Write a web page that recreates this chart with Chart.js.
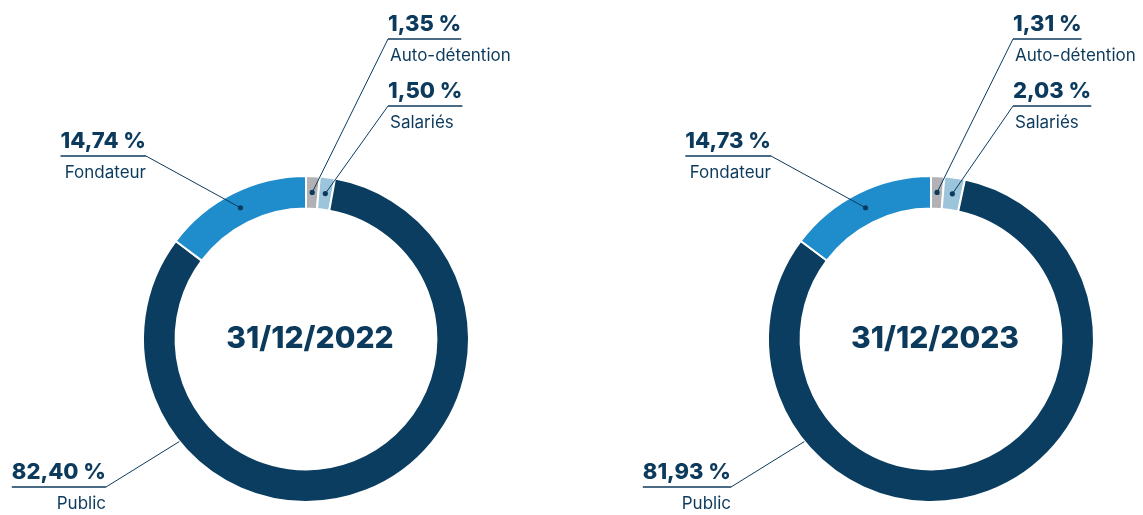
<!DOCTYPE html>
<html>
<head>
<meta charset="utf-8">
<script src="https://cdn.jsdelivr.net/npm/chart.js@4.4.1/dist/chart.umd.min.js"></script>
<style>
  html, body { margin: 0; padding: 0; background: #fff; }
  body { width: 1143px; height: 515px; position: relative; overflow: hidden; }
  .box { position: absolute; top: 0; width: 572px; height: 515px; }
  #boxA { left: 0; }
  #boxB { left: 571px; }
</style>
</head>
<body>
<div class="box" id="boxA"><canvas id="chart2022"></canvas></div>
<div class="box" id="boxB"><canvas id="chart2023"></canvas></div>
<script>
// ---------- data ----------
const categories = ['Auto-détention', 'Salariés', 'Public', 'Fondateur'];
const values2022 = [1.35, 1.50, 82.40, 14.74];
const values2023 = [1.31, 2.03, 81.93, 14.73];
const dateLabels = ['31/12/2022', '31/12/2023'];

// ---------- styles ----------
const sliceColors = ['#b1b1b6', '#9cc4da', '#0b3d60', '#1f8ccb'];
const navy = '#0c3a5c';
const FONT = 'Inter, "Noto Sans", sans-serif';

// callout layout, relative to the doughnut centre
const callouts = [
  { side: 'right', dx: 82, uy: -300, dot: true },
  { side: 'right', dx: 82, uy: -233, dot: true },
  { side: 'left', dx: -200, uy: 148, dot: false, edgeAngle: 141 },
  { side: 'left', dx: -160, uy: -183, dot: true }
];

const fmt = v => v.toFixed(2).replace('.', ',') + ' %';

const calloutPlugin = {
  id: 'callouts',
  afterDraw(chart, args, opts) {
    const ctx = chart.ctx;
    const arcs = chart.getDatasetMeta(0).data;
    const values = chart.data.datasets[0].data;
    if (!arcs.length) return;
    const c = arcs[0].getProps(['x', 'y'], true);
    const cx = c.x, cy = c.y;
    ctx.save();

    // centre date
    ctx.fillStyle = navy;
    ctx.font = '800 30px ' + FONT;
    ctx.textAlign = 'center';
    ctx.textBaseline = 'middle';
    ctx.fillText(opts.date, cx + 4, cy);

    arcs.forEach((arc, i) => {
      const p = arc.getProps(['startAngle', 'endAngle', 'innerRadius', 'outerRadius'], true);
      const cfg = callouts[i];
      let ax, ay;
      if (cfg.dot) {
        const mid = (p.startAngle + p.endAngle) / 2;
        const r = (p.innerRadius + p.outerRadius) / 2;
        ax = cx + Math.cos(mid) * r;
        ay = cy + Math.sin(mid) * r;
      } else {
        const a = cfg.edgeAngle * Math.PI / 180;
        ax = cx + Math.cos(a) * p.outerRadius;
        ay = cy + Math.sin(a) * p.outerRadius;
      }
      const x = cx + cfg.dx;
      const uy = cy + cfg.uy;
      const valTxt = fmt(values[i]);

      ctx.font = '800 22px ' + FONT;
      const w = ctx.measureText(valTxt).width;
      ctx.textBaseline = 'alphabetic';
      ctx.fillStyle = navy;
      ctx.textAlign = cfg.side === 'right' ? 'left' : 'right';
      ctx.fillText(valTxt, x, uy - 8);

      ctx.font = '17px ' + FONT;
      ctx.fillText(categories[i], cfg.side === 'right' ? x + 2 : x, uy + 22);

      // underline
      ctx.strokeStyle = navy;
      ctx.lineWidth = 1.5;
      ctx.beginPath();
      if (cfg.side === 'right') { ctx.moveTo(x, uy); ctx.lineTo(x + w, uy); }
      else { ctx.moveTo(x - w, uy); ctx.lineTo(x, uy); }
      ctx.stroke();

      // leader
      ctx.lineWidth = 1;
      ctx.beginPath();
      ctx.moveTo(x, uy);
      ctx.lineTo(ax, ay);
      ctx.stroke();

      if (cfg.dot) {
        ctx.beginPath();
        ctx.arc(ax, ay, 2.6, 0, Math.PI * 2);
        ctx.fill();
      }
    });
    ctx.restore();
  }
};

function makeDoughnut(id, values, date, pad) {
  return new Chart(document.getElementById(id).getContext('2d'), {
    type: 'doughnut',
    data: {
      labels: categories,
      datasets: [{
        data: values,
        backgroundColor: sliceColors,
        borderColor: '#ffffff',
        borderWidth: 2,
        hoverOffset: 0
      }]
    },
    options: {
      responsive: true,
      maintainAspectRatio: false,
      animation: false,
      cutout: '80%',
      layout: { padding: pad },
      events: [],
      plugins: {
        legend: { display: false },
        tooltip: { enabled: false },
        callouts: { date: date }
      }
    },
    plugins: [calloutPlugin]
  });
}

function renderCharts() {
  makeDoughnut('chart2022', values2022, dateLabels[0], { left: 142, right: 102, top: 175, bottom: 12 });
  makeDoughnut('chart2023', values2023, dateLabels[1], { left: 196, right: 48, top: 175, bottom: 12 });
}

window.addEventListener('DOMContentLoaded', renderCharts);
</script>
</body>
</html>
